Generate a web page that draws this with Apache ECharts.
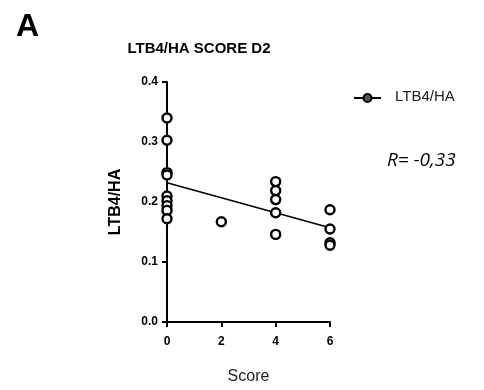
<!DOCTYPE html>
<html lang="en" style="height: 100%">
<head>
<meta charset="utf-8">
<title>LTB4/HA SCORE D2</title>
</head>
<body style="height: 100%; margin: 0; background: #fff">
<div id="container" style="width: 484px; height: 390px"></div>
<script type="text/javascript" src="https://cdn.jsdelivr.net/npm/echarts@6/dist/echarts.min.js"></script>
<script type="text/javascript">

var dom = document.getElementById('container');
var myChart = echarts.init(dom);

// Data
var scores = [0, 0, 0, 0, 0, 0, 0, 0, 0, 2, 4, 4, 4, 4, 4, 6, 6, 6, 6];
var ratios = [0.34, 0.303, 0.249, 0.245, 0.21, 0.202, 0.194, 0.186, 0.172,
              0.167, 0.234, 0.219, 0.204, 0.182, 0.146, 0.187, 0.155, 0.132, 0.128];
// regression line end points
var fitX = [0, 6];
var fitY = [0.232, 0.157];
var xTicks = [0, 2, 4, 6];

var font = '"Liberation Sans", Arial, sans-serif';

var option = {
    animation: false,
    backgroundColor: '#fff',
    grid: { left: 167, right: 154, top: 82, bottom: 66 },
    title: [{
        text: 'A',
        left: 11, top: 6,
        textStyle: { fontFamily: font, fontSize: 32, fontWeight: 'bold', color: '#000' }
    }, {
        text: 'LTB4/HA SCORE D2',
        left: 194, top: 36, textAlign: 'center',
        textStyle: { fontFamily: font, fontSize: 15, fontWeight: 'bold', color: '#000' }
    }],
    xAxis: {
        type: 'value',
        min: 0, max: 6, interval: 2,
        name: 'Score',
        nameLocation: 'middle',
        nameGap: 47,
        nameTextStyle: { fontFamily: font, fontSize: 16, color: '#222' },
        axisLine: { show: true, lineStyle: { color: '#000', width: 2 } },
        axisTick: { show: true, length: 5, lineStyle: { color: '#000', width: 2 } },
        axisLabel: {
            fontFamily: font, fontSize: 12, fontWeight: 'bold', color: '#000', margin: 14,
            formatter: function (v) { return xTicks.indexOf(v) >= 0 ? String(v) : ''; }
        },
        splitLine: { show: false }
    },
    yAxis: {
        type: 'value',
        min: 0, max: 0.4, interval: 0.1,
        name: 'LTB4/HA',
        nameLocation: 'middle',
        nameGap: 43,
        nameTextStyle: { fontFamily: font, fontSize: 16, fontWeight: 'bold', color: '#000' },
        axisLine: { show: true, lineStyle: { color: '#000', width: 2 } },
        axisTick: { show: true, length: 5, lineStyle: { color: '#000', width: 2 } },
        axisLabel: {
            fontFamily: font, fontSize: 12, fontWeight: 'bold', color: '#000', margin: 9,
            formatter: function (v) { return v.toFixed(1); }
        },
        splitLine: { show: false }
    },
    series: [{
        name: 'fit',
        type: 'line',
        data: fitX.map(function (x, i) { return [x, fitY[i]]; }),
        showSymbol: false,
        lineStyle: { color: '#000', width: 1.6 },
        z: 2
    }, {
        name: 'LTB4/HA',
        type: 'scatter',
        data: scores.map(function (x, i) { return [x, ratios[i]]; }),
        symbol: 'circle',
        symbolSize: 9,
        itemStyle: { color: '#fff', borderColor: '#000', borderWidth: 2.4, opacity: 1 },
        z: 3
    }],
    graphic: [{
        type: 'line',
        shape: { x1: 354, y1: 98, x2: 381, y2: 98 },
        style: { stroke: '#000', lineWidth: 2 }
    }, {
        type: 'circle',
        shape: { cx: 367.5, cy: 98, r: 4 },
        style: { fill: '#555', stroke: '#000', lineWidth: 2 }
    }, {
        type: 'text',
        left: 395, top: 89,
        style: { text: 'LTB4/HA', font: '15px ' + font, fill: '#222' }
    }, {
        type: 'text',
        left: 387, top: 151,
        style: { text: 'R= -0,33', font: 'italic 19px "Open Sans", ' + font, fill: '#000' }
    }]
};

myChart.setOption(option);
window.addEventListener('resize', myChart.resize);
</script>
</body>
</html>
